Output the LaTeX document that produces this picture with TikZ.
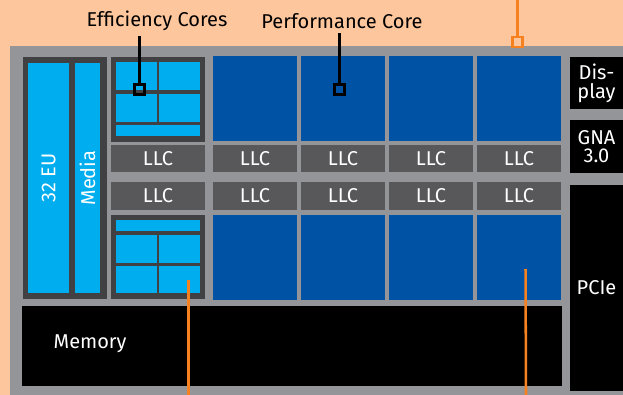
\documentclass[tikz,border=0pt]{standalone}
\usepackage{fontspec}
\setmainfont{Fira Sans}
\usetikzlibrary{positioning}
\definecolor{peach}{HTML}{FEC69C}
\definecolor{diegray}{HTML}{939598}
\definecolor{gpugray}{HTML}{414042}
\definecolor{llcgray}{HTML}{58585A}
\definecolor{lightblue}{HTML}{00ADEE}
\definecolor{coreblue}{HTML}{0053A4}
\definecolor{calloutorange}{HTML}{F68121}

\begin{document}
\begin{tikzpicture}[x=0.75pt,y=-0.75pt,font=\fontsize{15}{17}\selectfont,
  blk/.style={inner sep=0pt,outer sep=0pt,anchor=north west},
  sz/.style 2 args={minimum width=#1*0.75pt,minimum height=#2*0.75pt},
  llc/.style={blk,sz={84}{27},fill=llcgray,text=white},
  pcore/.style={blk,sz={84}{85},fill=coreblue},
  ecblk/.style={blk,sz={94}{85},fill=gpugray},
  ecell/.style={blk,sz={41}{28},fill=lightblue},
  io/.style={blk,fill=black,text=white,align=center,font=\fontsize{15}{14}\selectfont},
  marker/.style={draw,line width=1.9pt,inner sep=0pt,sz={10}{10}},
  callout/.style={line width=1.9pt}]
  \useasboundingbox (0,0) rectangle (623,395);
  % die outline
  \fill[peach] (0,0) rectangle (623,395);
  \fill[diegray] (10,46) rectangle (623,395);
  % graphics
  \node[blk,sz={84}{242},fill=gpugray] (gpu) at (23,57) {};
  \node[blk,sz={41}{230},fill=lightblue] (eu) at (28,63) {};
  \node[blk,sz={25}{230},fill=lightblue] (media) at (75,63) {};
  \node[rotate=90,text=white] (eut) at (48.5,178) {32 EU};
  \node[rotate=90,text=white] (mediat) at (87.5,178) {Media};
  % efficiency core clusters
  \node[ecblk] (ea) at (111,57) {};
  \foreach \c/\x/\y in {1/116/62,2/159/62,3/116/94,4/159/94}
    \node[ecell] (ea\c) at (\x,\y) {};
  \node[ecell,sz={84}{11}] (ea5) at (116,125) {};
  \node[ecblk,sz={94}{84}] (eb) at (111,215) {};
  \node[ecell,sz={84}{11}] (eb5) at (116,220) {};
  \foreach \c/\x/\y in {1/116/235,2/159/235}
    \node[ecell] (eb\c) at (\x,\y) {};
  \foreach \c/\x/\y in {3/116/266,4/159/266}
    \node[ecell,sz={41}{27}] (eb\c) at (\x,\y) {};
  \node[llc,sz={94}{27}] (la0) at (111,145) {LLC};
  \node[llc,sz={94}{28}] (lb0) at (111,182) {LLC};
  % performance cores with cache slices
  \foreach \i/\x in {1/213,2/301,3/389,4/477}{
    \node[pcore] (pa\i) at (\x,56) {};
    \node[llc] (la\i) at (\x,145) {LLC};
    \node[llc,sz={84}{28}] (lb\i) at (\x,182) {LLC};
    \node[pcore] (pb\i) at (\x,215) {};
  }
  % memory and io
  \node[blk,sz={540}{80},fill=black] (mem) at (22,306) {};
  \node[text=white,anchor=west] (memt) at (49,344) {Memory};
  \node[io,sz={53}{52}] (disp) at (570,57) {Dis-\\play};
  \node[io,sz={53}{53}] (gna) at (570,120) {GNA\\3.0};
  \node[io,sz={53}{206}] (pcie) at (570,185) {PCIe};
  % callouts
  \node (ecl) at (157,21) {Efficiency Cores};
  \node (pcl) at (342,21) {Performance Core};
  \node[marker] (ecm) at (139.5,89.5) {};
  \node[marker] (pcm) at (339.5,89.5) {};
  \draw[callout] (ecl.south -| ecm) -- (ecm.north);
  \draw[callout] (pcl.south -| pcm) -- (pcm.north);
  \coordinate (otop) at (517.5,0);
  \node[marker,draw=calloutorange] (om) at (517.5,42) {};
  \draw[callout,calloutorange] (otop) -- (om.north);
  \coordinate (oa) at (188.5,280);
  \coordinate (oab) at (188.5,395);
  \coordinate (ob) at (525.5,269);
  \coordinate (obb) at (526,395);
  \draw[callout,calloutorange] (oa) -- (oab);
  \draw[callout,calloutorange] (ob) -- (obb);
\end{tikzpicture}
\end{document}
